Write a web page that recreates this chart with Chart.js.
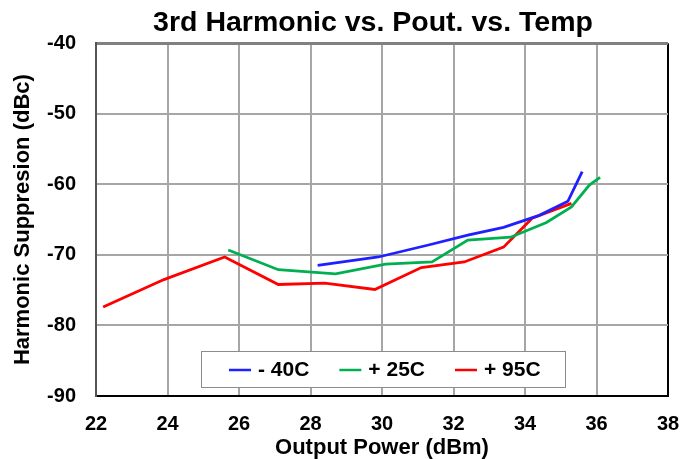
<!DOCTYPE html>
<html>
<head>
<meta charset="utf-8">
<script src="https://cdn.jsdelivr.net/npm/chart.js@4.4.1/dist/chart.umd.min.js"></script>
<style>
	html, body { margin: 0; padding: 0; background: #fff; }
	#wrap { width: 683px; height: 459px; position: relative; }
</style>
</head>
<body>
<div id="wrap"><canvas id="chart"></canvas></div>
<script>
// values
const seriesLabels = ['- 40C', '+ 25C', '+ 95C'];
const seriesColors = ['#1f1fff', '#00b050', '#ff0000'];

const powerMinus40 = [28.2, 29.9, 31.3, 32.4, 33.4, 34.4, 35.2, 35.6];
const suppMinus40 = [-71.5, -70.3, -68.6, -67.2, -66.1, -64.4, -62.4, -58.2];

const powerPlus25 = [25.7, 27.1, 28.7, 30.1, 31.4, 32.4, 33.6, 34.6, 35.3, 35.8, 36.1];
const suppPlus25 = [-69.3, -72.1, -72.7, -71.3, -71.0, -67.9, -67.5, -65.4, -63.2, -60.1, -59.0];

const powerPlus95 = [22.2, 23.9, 25.6, 27.1, 28.4, 29.8, 31.1, 32.3, 33.4, 34.2, 35.3];
const suppPlus95 = [-77.4, -73.5, -70.3, -74.2, -74.0, -74.9, -71.8, -71.0, -68.9, -64.8, -62.7];

const xTicks = [22, 24, 26, 28, 30, 32, 34, 36, 38];
const yTicks = [-90, -80, -70, -60, -50, -40];

function toPoints(xs, ys) {
	return xs.map((x, i) => ({ x: x, y: ys[i] }));
}

Chart.defaults.font.family = '"Liberation Sans", Arial, sans-serif';
Chart.defaults.color = '#000';

// legend drawn inside the plot area like the original
const boxLegend = {
	id: 'boxLegend',
	afterLayout(chart) {
		// original title sits a bit left of the plot centre
		if (chart.titleBlock) chart.titleBlock.left = chart.chartArea.left - 18;
	},
	afterDatasetsDraw(chart) {
		const ctx = chart.ctx;
		const area = chart.chartArea;
		const bx = area.left + 105, by = area.bottom - 45, bw = 364, bh = 36;
		ctx.save();
		ctx.fillStyle = '#fff';
		ctx.fillRect(bx, by, bw, bh);
		ctx.strokeStyle = '#8c8c8c';
		ctx.lineWidth = 1;
		ctx.strokeRect(bx + 0.5, by + 0.5, bw, bh);
		ctx.font = 'bold 21px "Liberation Sans", Arial, sans-serif';
		ctx.textBaseline = 'middle';
		let x = bx + 28;
		const cy = by + bh / 2 + 1;
		chart.data.datasets.forEach(ds => {
			ctx.strokeStyle = ds.borderColor;
			ctx.lineWidth = 2.5;
			ctx.beginPath();
			ctx.moveTo(x, cy);
			ctx.lineTo(x + 22, cy);
			ctx.stroke();
			ctx.fillStyle = '#000';
			ctx.fillText(ds.label, x + 29, cy);
			x += 29 + ctx.measureText(ds.label).width + 30;
		});
		ctx.restore();
	}
};

let datasets = [
	{ label: seriesLabels[0], data: toPoints(powerMinus40, suppMinus40), borderColor: seriesColors[0] },
	{ label: seriesLabels[1], data: toPoints(powerPlus25, suppPlus25), borderColor: seriesColors[1] },
	{ label: seriesLabels[2], data: toPoints(powerPlus95, suppPlus95), borderColor: seriesColors[2] }
];
datasets.forEach(ds => {
	ds.showLine = true;
	ds.fill = false;
	ds.pointRadius = 0;
	ds.borderWidth = 2.8;
	ds.tension = 0;
});

new Chart(document.getElementById('chart').getContext('2d'), {
	type: 'scatter',
	data: { datasets: datasets },
	options: {
		responsive: true,
		maintainAspectRatio: false,
		animation: false,
		layout: { padding: { left: 0, right: 15, top: 0, bottom: 0 } },
		plugins: {
			legend: { display: false },
			tooltip: { enabled: false },
			title: {
				display: true,
				fullSize: false,
				text: '3rd Harmonic vs. Pout. vs. Temp',
				font: { size: 28.5, weight: 'bold' },
				padding: { top: 6, bottom: 3 }
			}
		},
		scales: {
			x: {
				type: 'linear',
				min: 22,
				max: 38,
				afterBuildTicks: s => { s.ticks = xTicks.map(v => ({ value: v })); },
				afterFit: s => { s.height = 63; s.paddingLeft = 0; s.paddingRight = 0; },
				ticks: { font: { size: 20, weight: 'bold' }, padding: 16, maxRotation: 0 },
				grid: {
					drawTicks: false,
					color: c => c.tick && c.tick.value === 38 ? '#000' : '#a6a6a6',
					lineWidth: 2
				},
				border: { color: '#000', width: 2 },
				title: {
					display: true,
					text: 'Output Power (dBm)',
					font: { size: 22, weight: 'bold', lineHeight: 1.0 },
					padding: { top: 0, bottom: 0 }
				}
			},
			y: {
				min: -90,
				max: -40,
				afterBuildTicks: s => { s.ticks = yTicks.map(v => ({ value: v })); },
				afterFit: s => { s.width = 96; },
				ticks: { font: { size: 20, weight: 'bold' }, padding: 20 },
				grid: {
					drawTicks: false,
					color: c => c.tick && c.tick.value === -40 ? '#808080' : '#a6a6a6',
					lineWidth: c => c.tick && c.tick.value === -40 ? 3 : 2
				},
				border: { color: '#555', width: 2 },
				title: {
					display: true,
					text: 'Harmonic Suppresion (dBc)',
					font: { size: 22, weight: 'bold' },
					padding: { top: 10, bottom: 0 }
				}
			}
		}
	},
	plugins: [boxLegend]
});
</script>
</body>
</html>
